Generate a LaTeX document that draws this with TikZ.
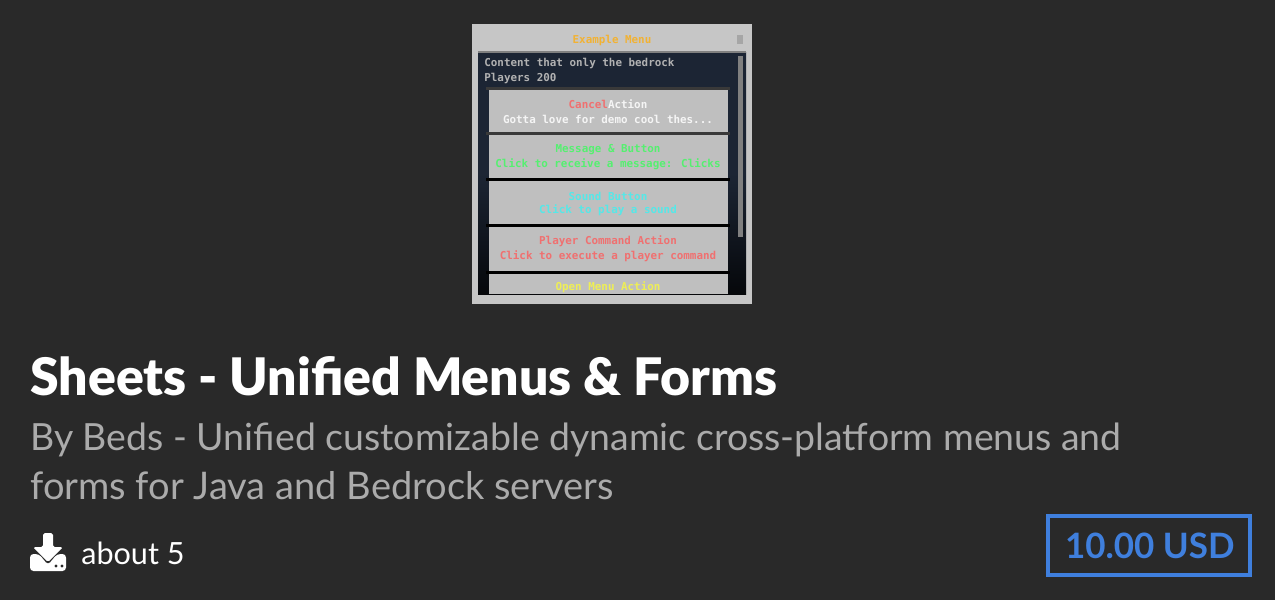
\documentclass[tikz,border=0pt]{standalone}
\usepackage{fontspec}
\setmainfont{Lato}
\newfontfamily\menufont{DejaVu Sans Mono}
\newfontfamily\headfont{Lato Black}
\definecolor{pagebg}{HTML}{292929}
\definecolor{subgrey}{HTML}{ABABAB}
\definecolor{priceblue}{HTML}{3F7FDD}
\definecolor{thumbgrey}{HTML}{C6C6C6}
\definecolor{panelblue}{HTML}{1C2534}
\definecolor{btngrey}{HTML}{BFBFBF}
\definecolor{menuorange}{HTML}{F2B233}
\definecolor{menured}{HTML}{F07070}
\definecolor{menugreen}{HTML}{55F070}
\definecolor{menucyan}{HTML}{55E8E8}
\definecolor{menuyellow}{HTML}{EEEE55}
\tikzset{
  titletext/.style={anchor=base west,inner sep=0pt,text=white,font=\headfont\fontsize{29.45pt}{30pt}\selectfont},
  subtext/.style={anchor=base west,inner sep=0pt,text=subgrey,font=\fontsize{21.3pt}{24pt}\selectfont},
  menutext/.style={inner sep=0pt,font=\menufont\bfseries\fontsize{6.2pt}{7pt}\selectfont},
  menusep/.style={draw=black,line width=1.7pt}
}
\begin{document}
\begin{tikzpicture}[x=0.02cm,y=-0.02cm]
    \useasboundingbox (0,0) rectangle (1275,600);
    \fill[pagebg] (0,0) rectangle (1275,600);
    % thumbnail
    \fill[thumbgrey] (472,24) rectangle (752,304);
    \shade[top color=panelblue,bottom color=black!80!panelblue,middle color=panelblue] (478,52) rectangle (746,294);
    \draw[gray,line width=0.8pt] (478,52) -- (746,52);
    \fill[gray] (738,56) rectangle (743,237);
    \fill[gray!70] (737,35) rectangle (743,44);
    \fill[btngrey] (489,88) rectangle (728,294);
    \draw[menusep,draw=black!70!btngrey] (486,88) -- (730,88);
    \draw[menusep,draw=black!70!btngrey] (486,133.5) -- (730,133.5);
    \draw[menusep] (486,179) -- (730,179);
    \draw[menusep] (486,225.5) -- (730,225.5);
    \draw[menusep] (486,272) -- (730,272);
    \node[menutext,text=menuorange] (menutitle) at (612,40) {Example Menu};
    \node[menutext,anchor=west,text=gray!60] (content) at (484,63) {Content that only the bedrock};
    \node[menutext,anchor=west,text=gray!60] (players) at (484,78) {Players 200};
    \node[menutext] (cancel) at (608,104) {\textcolor{menured}{Cancel}\textcolor{white!85!btngrey}{ Action}};
    \node[menutext,text=white!85!btngrey] (cancelsub) at (608,119) {Gotta love for demo cool thes...};
    \node[menutext,text=menugreen] (msg) at (608,150) {Message \& Button};
    \node[menutext,text=menugreen] (msgsub) at (608,164) {Click to receive a message: Clicks};
    \node[menutext,text=menucyan] (sound) at (608,196) {Sound Button};
    \node[menutext,text=menucyan] (soundsub) at (608,210) {Click to play a sound};
    \node[menutext,text=menured] (player) at (608,241) {Player Command Action};
    \node[menutext,text=menured] (playersub) at (608,256) {Click to execute a player command};
    \node[menutext,text=menuyellow] (openmenu) at (608,287) {Open Menu Action};
    % heading
    \node[titletext] (title) at (30,395) {Sheets - Unified Menus \& Forms};
    \node[subtext] (subone) at (30,450) {By Beds - Unified customizable dynamic cross-platform menus and};
    \node[subtext,font=\fontsize{21.65pt}{24pt}\selectfont] (subtwo) at (30,499) {forms for Java and Bedrock servers};
    % download icon
    \fill[white,rounded corners=1pt] (43,533) -- (53,533) -- (53,547) -- (63,547) -- (48,562) -- (33,547) -- (43,547) -- cycle;
    \fill[white,rounded corners=2pt] (30,571) -- (30,554) -- (39,554) -- (48,565) -- (57,554) -- (66,554) -- (66,571) -- cycle;
    \fill[pagebg] (56,566) circle (1.6) (62,566) circle (1.6);
    \node[anchor=base west,inner sep=0pt,text=white,font=\fontsize{17.4pt}{20pt}\selectfont] (count) at (81,564) {about 5};
    % price
    \node[draw=priceblue,line width=2.3pt,inner sep=0pt,text=priceblue,font=\fontsize{19.9pt}{24pt}\bfseries,minimum width=115pt,minimum height=33.6pt] (price) at (1149,545.5) {\hspace*{1pt}10.00 USD};
\end{tikzpicture}
\end{document}
